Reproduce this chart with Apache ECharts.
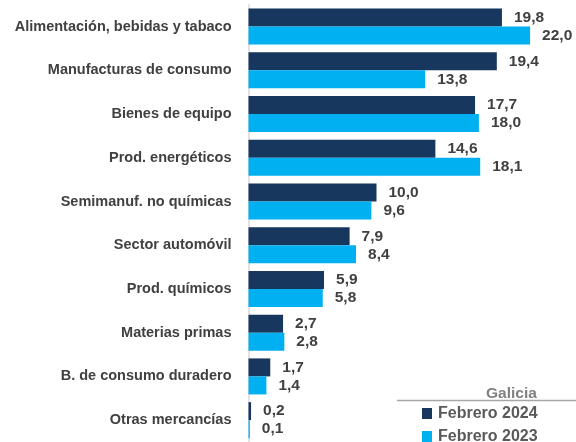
<!DOCTYPE html>
<html>
<head>
<meta charset="utf-8">
<script src="https://cdn.jsdelivr.net/npm/echarts@6/dist/echarts.min.js"></script>
<style>
html,body{margin:0;padding:0;background:#fff;}
#c{width:576px;height:442px;}
</style>
</head>
<body>
<div id="c"></div>
<script>
const categories = ["Alimentación, bebidas y tabaco","Manufacturas de consumo","Bienes de equipo","Prod. energéticos","Semimanuf. no químicas","Sector automóvil","Prod. químicos","Materias primas","B. de consumo duradero","Otras mercancías"];
const feb2024 = [19.8,19.4,17.7,14.6,10.0,7.9,5.9,2.7,1.7,0.2];
const feb2023 = [22.0,13.8,18.0,18.1,9.6,8.4,5.8,2.8,1.4,0.1];
const seriesNames = ["Febrero 2024","Febrero 2023"];
const seriesColors = ["#17375e","#00b0f0"];
const legendTitle = "Galicia";

const chart = echarts.init(document.getElementById('c'), null, {renderer:'canvas'});
const FONT = 'Liberation Sans';
const fmt = p => p.value.toFixed(1).replace('.', ',');
const labelStyle = {show:true, position:'right', distance:12, formatter:fmt, color:'#404040', fontWeight:'bold', fontSize:15.5, fontFamily:FONT};
const legendGraphics = [];
seriesNames.forEach((n, i) => {
  const cy = 413.5 + i * 23;
  legendGraphics.push({type:'rect', shape:{x:422, y:cy - 5.5, width:10, height:11}, style:{fill:seriesColors[i]}});
  legendGraphics.push({type:'text', x:438, y:cy, style:{text:n, fill:'#595959', font:'bold 16px '+FONT, textVerticalAlign:'middle', verticalAlign:'middle'}});
});
chart.setOption({
  animation:false,
  textStyle:{fontFamily:FONT},
  grid:{left:248.5, top:4.75, width:320, height:445, containLabel:false},
  xAxis:{type:'value', min:0, max:25, show:false, splitLine:{show:false}},
  yAxis:{type:'category', inverse:true, data:categories,
    axisLine:{show:true, lineStyle:{color:'#d9d9d9', width:1.5}},
    axisTick:{show:false},
    axisLabel:{color:'#404040', fontWeight:'bold', fontSize:14.5, margin:17, fontFamily:FONT}},
  legend:{show:false, data:seriesNames},
  graphic:[
    {type:'text', left:486, top:386, style:{text:legendTitle, fill:'#808080', font:'bold 15.5px '+FONT}},
    {type:'line', shape:{x1:397, y1:400.5, x2:576, y2:400.5}, style:{stroke:'#a6a6a6', lineWidth:1.5}}
  ].concat(legendGraphics),
  series:[
    {name:seriesNames[0], type:'bar', data:feb2024, barWidth:18, barGap:'0%', itemStyle:{color:seriesColors[0]}, label:labelStyle},
    {name:seriesNames[1], type:'bar', data:feb2023, barWidth:18, barGap:'0%', itemStyle:{color:seriesColors[1]}, label:labelStyle}
  ]
});
</script>
</body>
</html>
